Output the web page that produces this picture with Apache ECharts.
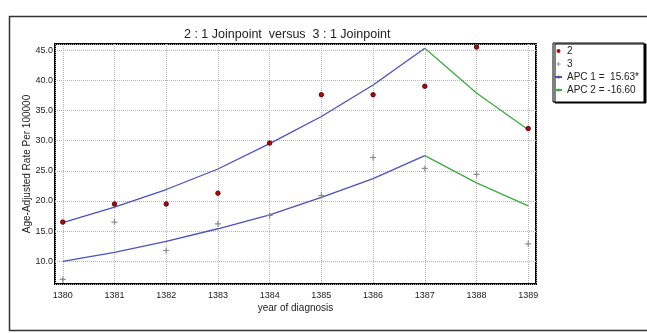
<!DOCTYPE html>
<html>
<head>
<meta charset="utf-8">
<title>Joinpoint</title>
<script src="https://cdn.jsdelivr.net/npm/echarts@6/dist/echarts.min.js"></script>
<style>
  html, body { margin: 0; padding: 0; background: #fff; }
  #main { width: 647px; height: 333px; }
</style>
</head>
<body>
<div id="main"></div>
<script>
// 数据 -- 读图所得
const years = [1380, 1381, 1382, 1383, 1384, 1385, 1386, 1387, 1388, 1389];
// 观测值
const obs2 = [16.5, 19.5, 19.5, 21.3, 29.6, 37.6, 37.6, 39.0, 45.5, 32.0];
const obs3 = [7.0, 16.5, 11.8, 16.2, 17.6, 20.9, 27.2, 25.4, 24.4, 12.9];
// 拟合值 (1387 为连接点)
const fit2 = [16.4, 19.0, 21.9, 25.3, 29.5, 34.0, 39.2, 45.3, 37.9, 31.8];
const fit3 = [10.0, 11.5, 13.3, 15.4, 17.7, 20.6, 23.7, 27.5, 23.0, 19.2];
const joinYear = 1387;
const yTicks = [10, 15, 20, 25, 30, 35, 40, 45];

const name2 = '2';
const name3 = '3';
const apc1 = 'APC 1 =  15.63*';
const apc2 = 'APC 2 = -16.60';

const font = "'Liberation Sans', Arial, sans-serif";

function pairs(vals, from, to) {
  let out = [];
  for (let i = 0; i < years.length; i++) {
    if (years[i] >= from && years[i] <= to) out.push([years[i], vals[i]]);
  }
  return out;
}

const chart = echarts.init(document.getElementById('main'), null, { renderer: 'canvas' });

const blue = '#4b50c4';
const green = '#3aae3e';

const plusPath = 'path://M2,0H3V2H5V3H3V5H2V3H0V2H2Z';

chart.setOption({
  animation: false,
  backgroundColor: '#fff',
  title: {
    text: '2 : 1 Joinpoint  versus  3 : 1 Joinpoint',
    left: 184,
    top: 28,
    padding: 0,
    textStyle: { fontFamily: font, fontSize: 12.5, fontWeight: 'normal', color: '#222' }
  },
  graphic: [
    // 外框
    {
      type: 'rect', left: 7, top: 14, silent: true,
      shape: { width: 650, height: 314 },
      style: { fill: null, stroke: '#333', lineWidth: 1.5 }
    }
  ],
  legend: {
    orient: 'vertical',
    left: 553,
    top: 43,
    padding: [3, 5, 7, 1],
    itemWidth: 7,
    itemHeight: 4,
    itemGap: 3,
    backgroundColor: '#fff',
    borderColor: '#000',
    borderWidth: 1,
    shadowColor: '#000',
    shadowBlur: 0,
    shadowOffsetX: 2,
    shadowOffsetY: 1,
    textStyle: { fontFamily: font, fontSize: 10, lineHeight: 10, color: '#222' },
    data: [
      { name: name2, icon: 'circle', itemStyle: { borderWidth: 0 } },
      { name: name3, icon: plusPath },
      { name: apc1 },
      { name: apc2 }
    ]
  },
  grid: {
    left: 55, top: 44, right: 111, bottom: 49,
    show: true, borderColor: '#000', borderWidth: 2
  },
  xAxis: {
    type: 'value',
    min: 1379.85,
    max: 1389.15,
    minInterval: 1,
    maxInterval: 1,
    name: 'year of diagnosis',
    nameLocation: 'middle',
    nameGap: 19,
    nameMoveOverlap: false,
    nameTextStyle: { fontFamily: font, fontSize: 10, color: '#222' },
    axisLine: { show: false },
    axisTick: { show: false },
    axisLabel: {
      margin: 7,
      fontFamily: font, fontSize: 9, color: '#222',
      formatter: v => Math.abs(v - Math.round(v)) < 1e-6 ? String(Math.round(v)) : ''
    },
    splitLine: { show: true, lineStyle: { color: '#b4b4b4', type: [1, 1], width: 1 } }
  },
  yAxis: {
    type: 'value',
    min: 6.25,
    max: 46,
    minInterval: 5,
    maxInterval: 5,
    name: 'Age-Adjusted Rate Per 100000',
    nameLocation: 'middle',
    nameGap: 23,
    nameMoveOverlap: false,
    nameTextStyle: { fontFamily: font, fontSize: 10, color: '#222' },
    axisLine: { show: false },
    axisTick: { show: false },
    axisLabel: {
      margin: 2,
      fontFamily: font, fontSize: 9, color: '#222',
      formatter: v => yTicks.indexOf(Math.round(v * 100) / 100) >= 0 ? v.toFixed(1) : ''
    },
    splitLine: { show: true, lineStyle: { color: '#b4b4b4', type: [1, 1], width: 1 } }
  },
  series: [
    // 拟合线 -- 第一段
    {
      name: apc1, type: 'line', data: pairs(fit2, 1380, joinYear),
      symbol: 'none', lineStyle: { color: blue, width: 1.3 }, itemStyle: { color: blue }, z: 2
    },
    {
      name: apc1, type: 'line', data: pairs(fit3, 1380, joinYear),
      symbol: 'none', lineStyle: { color: blue, width: 1.3 }, itemStyle: { color: blue }, z: 2
    },
    // 拟合线 -- 第二段
    {
      name: apc2, type: 'line', data: pairs(fit2, joinYear, 1389),
      symbol: 'none', lineStyle: { color: green, width: 1.3 }, itemStyle: { color: green }, z: 2
    },
    {
      name: apc2, type: 'line', data: pairs(fit3, joinYear, 1389),
      symbol: 'none', lineStyle: { color: green, width: 1.3 }, itemStyle: { color: green }, z: 2
    },
    // 观测点
    {
      name: name2, type: 'scatter', data: pairs(obs2, 1380, 1389),
      symbol: 'circle', symbolSize: 4.5, clip: false,
      itemStyle: { color: '#c00000', borderColor: '#3a0000', borderWidth: 0.8, opacity: 1 }, z: 3
    },
    {
      name: name3, type: 'scatter', data: pairs(obs3, 1380, 1389),
      symbol: plusPath, symbolSize: 6, clip: false,
      itemStyle: { color: '#8c8c8c', opacity: 1 }, z: 3
    }
  ]
});
</script>
</body>
</html>
